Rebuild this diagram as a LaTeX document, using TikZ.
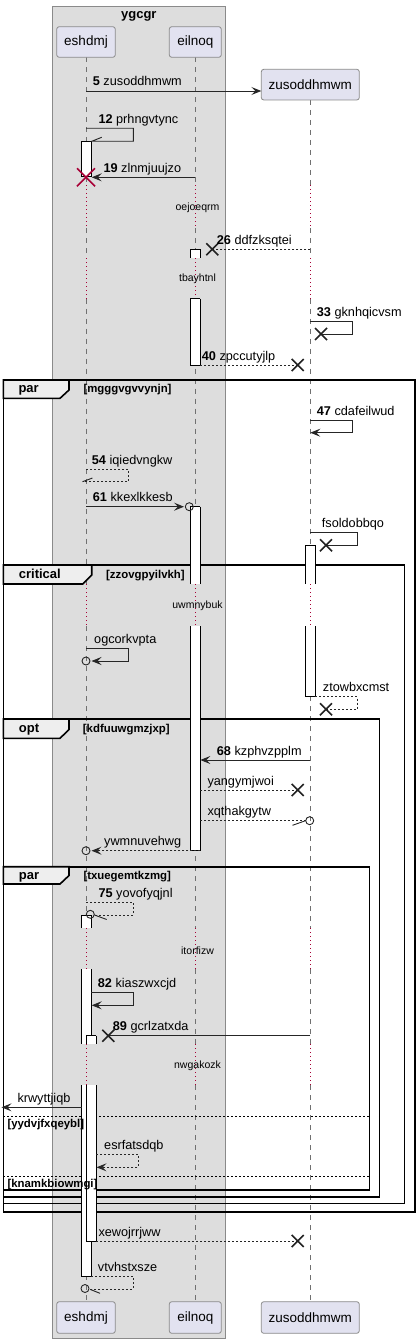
\documentclass[tikz,border=0pt]{standalone}
\usepackage{fontspec}
\setmainfont{Liberation Sans}
\usetikzlibrary{arrows.meta}
\definecolor{partfill}{HTML}{E2E2F0}
\definecolor{partdraw}{HTML}{8A8A8A}
\definecolor{boxfill}{HTML}{DDDDDD}
\definecolor{boxdraw}{HTML}{8A8A8A}
\definecolor{lifecol}{HTML}{707070}
\definecolor{delaycol}{HTML}{A80036}
\definecolor{tabfill}{HTML}{EEEEEE}
\definecolor{xcol}{HTML}{222222}
\tikzset{
 part/.style={draw=partdraw, fill=partfill, rounded corners=2.5pt, line width=0.8pt, font=\fontsize{13.5}{16}\selectfont, inner sep=0pt},
 life/.style={draw=lifecol, dash pattern=on 5pt off 5pt, line width=0.7pt},
 dly/.style={draw=delaycol, dash pattern=on 1pt off 3pt, line width=0.9pt},
 msg/.style={line width=0.9pt, draw=black!85},
 ret/.style={msg, dash pattern=on 2pt off 2pt},
 arr/.style={-{Stealth[length=10pt,width=8pt,inset=4pt]}},
 lbl/.style={inner sep=0pt, anchor=base west, font=\fontsize{12.7}{15}\selectfont},
 dtxt/.style={inner sep=0pt, font=\fontsize{10.5}{12}\selectfont},
 actside/.style={draw=black, line width=0.9pt},
 frm/.style={draw=black, line width=1.6pt},
 tabshape/.style={fill=tabfill, draw=black, line width=1.6pt},
 glbl/.style={inner sep=0pt, anchor=base west, font=\bfseries\fontsize{13}{15}\selectfont},
 guard/.style={inner sep=0pt, anchor=base west, font=\bfseries\fontsize{11.4}{13}\selectfont},
 sepline/.style={draw=black, dash pattern=on 2pt off 2pt, line width=0.8pt},
 xm/.style={draw=xcol, line width=1.6pt},
 circ/.style={draw=black!85, line width=0.9pt},
 pics/xmark/.style={code={\draw[xm] (-6,-6)--(6,6) (-6,6)--(6,-6);}},
 pics/redx/.style={code={\draw[draw=delaycol, line width=1.6pt] (-9,-9)--(9,9) (-9,9)--(9,-9);}},
}
% activation box: x1,y1,x2,y2, top(1/0), bottom(1/0)
\newcommand\actbar[6]{%
  \fill[white] (#1,#2) rectangle (#3,#4);
  \draw[actside] (#1,#2) -- (#1,#4) (#3,#2) -- (#3,#4);
  \ifnum#5=1 \draw[actside] (#1,#2) -- (#3,#2);\fi
  \ifnum#6=1 \draw[actside] (#1,#4) -- (#3,#4);\fi}
\newcommand\lifeln[2]{%
  \foreach \a/\b in {#2/185,228/258,298.7/584,626/928.3,969.3/1044,1085/1301.7}
    \draw[life] (#1,\a) -- (#1,\b);
  \foreach \a/\b in {185/228,258/298.7,584/626,928.3/969.3,1044/1085}
    \draw[dly] (#1,\a) -- (#1,\b);}
\begin{document}
\begin{tikzpicture}[x=1pt,y=-1pt]
\useasboundingbox (0,0) rectangle (419,1343);
% box
\draw[fill=boxfill, draw=boxdraw, line width=0.8pt] (52.3,6) rectangle (225.3,1338);
\node[inner sep=0pt, anchor=base, font=\bfseries\fontsize{13}{15}\selectfont] (boxttl) at (138.8,18.3) {ygcgr};
% lifelines
\lifeln{86}{57.3}
\lifeln{195.3}{57.3}
\lifeln{310.3}{100}
% participants
\node[part, minimum width=58.6pt, minimum height=30.6pt] (p1) at (86,42) {eshdmj};
\node[part, minimum width=52pt, minimum height=30.6pt] (p2) at (195.3,42) {eilnoq};
\node[part, minimum width=98pt, minimum height=30.7pt] (p3) at (310.3,84.65) {zusoddhmwm};
\node[part, minimum width=58.6pt, minimum height=31.6pt] (q1) at (86,1317.5) {eshdmj};
\node[part, minimum width=52pt, minimum height=31.6pt] (q2) at (195.3,1317.5) {eilnoq};
\node[part, minimum width=98pt, minimum height=31.6pt] (q3) at (310.3,1317.5) {zusoddhmwm};
\coordinate (p3in) at (261.3,91);
% frames
\draw[frm] (3.3,380) rectangle (415,1211.7);
\draw[tabshape] (3.3,380) -- (69,380) -- (69,390) -- (60,398.3) -- (3.3,398.3) -- cycle;
\node[glbl] (g1) at (18.3,392.3) {par};
\node[guard] (g1g) at (83.3,392.3) {[mgggvgvvynjn]};
\draw[frm] (3.3,565) rectangle (404.3,1203.3);
\draw[tabshape] (3.3,565) -- (91.7,565) -- (91.7,575) -- (82.7,584) -- (3.3,584) -- cycle;
\node[glbl] (g2) at (18.7,578.3) {critical};
\node[guard] (g2g) at (106,578.3) {[zzovgpyilvkh]};
\draw[frm] (3.3,719) rectangle (379.3,1196.7);
\draw[tabshape] (3.3,719) -- (69,719) -- (69,729.5) -- (60,738.3) -- (3.3,738.3) -- cycle;
\node[glbl] (g3) at (18.7,732) {opt};
\node[guard] (g3g) at (82.7,732) {[kdfuuwgmzjxp]};
\draw[frm] (3.3,866.7) rectangle (369.3,1190);
\draw[tabshape] (3.3,866.7) -- (69,866.7) -- (69,875.5) -- (60,884) -- (3.3,884) -- cycle;
\node[glbl] (g4) at (18.7,879.3) {par};
\node[guard] (g4g) at (83.3,879.3) {[txuegemtkzmg]};
\draw[sepline] (3.3,1116) -- (369.3,1116);
\draw[sepline] (3.3,1176) -- (369.3,1176);
% activations
\actbar{81.7}{141.3}{91}{176.7}{1}{1}
\actbar{190.3}{249.3}{200.3}{257.7}{1}{0}
\actbar{190.3}{298.7}{200.3}{365}{1}{1}
\actbar{190.3}{506.7}{200.3}{584}{1}{0}
\actbar{190.3}{626}{200.3}{850.7}{0}{1}
\actbar{305.7}{545.3}{315.3}{584}{1}{0}
\actbar{305.7}{626}{315.3}{696.7}{0}{1}
\actbar{81.7}{915}{91}{928.3}{1}{0}
\actbar{81.7}{969.3}{91}{1044}{0}{0}
\actbar{81.7}{1085}{91}{1276.7}{0}{1}
\actbar{86.3}{1035.7}{96.3}{1044}{1}{0}
\actbar{86.3}{1085}{96.3}{1241}{0}{1}
\node[guard] (s1) at (7.3,1127.7) {[yydvjfxqeybl]};
\node[guard] (s2) at (7.3,1187) {[knamkbiowmgi]};
% delay texts
\node[dtxt] (d1) at (197.5,207.7) {oejoeqrm};
\node[dtxt] (d2) at (197.5,279) {tbayhtnl};
\node[dtxt] (d3) at (197.5,606) {uwmnybuk};
\node[dtxt] (d4) at (197.5,950.5) {itorfizw};
\node[dtxt] (d5) at (197.5,1065.5) {nwgakozk};
% messages
\draw[msg, arr] (86,91) -- (p3in);
\node[lbl] at (92.7,86) {\textbf{5} zusoddhmwm};
\draw[msg] (86,128.3) -- (133.3,128.3) -- (133.3,141.3) -- (91.7,141.3) -- (101.7,137.3);
\node[lbl] at (98.3,123.5) {\textbf{12} prhngvtync};
\draw[msg, arr] (195.3,177.3) -- (91.7,177.3);
\pic at (86,177.3) {redx};
\node[lbl] at (103.3,172.3) {\textbf{19} zlnmjuujzo};
\draw[ret] (310.3,249.3) -- (212.3,249.3);
\pic at (212.3,249.3) {xmark};
\node[lbl] at (216.7,244.3) {\textbf{26} ddfzksqtei};
\draw[msg] (310.3,321) -- (352.3,321) -- (352.3,334) -- (321,334);
\pic at (321,334) {xmark};
\node[lbl] at (316.7,316) {\textbf{33} gknhqicvsm};
\draw[ret] (200.3,365) -- (297.7,365);
\pic at (297.7,365) {xmark};
\node[lbl] at (201.7,360) {\textbf{40} zpccutyjlp};
\draw[msg, arr] (310.3,420.7) -- (352.3,420.7) -- (352.3,432.7) -- (310.3,432.7);
\node[lbl] at (316.7,415.7) {\textbf{47} cdafeilwud};
\draw[ret] (86,469.3) -- (128.3,469.3) -- (128.3,481.7) -- (82.5,481.7);
\draw[msg] (82.5,481.7) -- (92.5,478);
\node[lbl] at (91.7,464.3) {\textbf{54} iqiedvngkw};
\draw[msg, arr] (86,506.7) -- (184,506.7);
\draw[circ] (189.3,506.7) circle (4);
\node[lbl] at (92.7,501.7) {\textbf{61} kkexlkkesb};
\draw[msg] (310.3,532.7) -- (357.3,532.7) -- (357.3,545.3) -- (326,545.3);
\pic at (326,545.3) {xmark};
\node[lbl] at (321.7,527.7) {fsoldobbqo};
\draw[msg, arr] (86,648.3) -- (128.3,648.3) -- (128.3,661) -- (91.5,661);
\draw[circ] (86,661) circle (4);
\node[lbl] at (94,643.3) {ogcorkvpta};
\draw[ret] (315.3,696.7) -- (357.3,696.7) -- (357.3,709.3) -- (326,709.3);
\pic at (326,709.3) {xmark};
\node[lbl] at (322.7,691.7) {ztowbxcmst};
\draw[msg, arr] (310.3,760) -- (200.3,760);
\node[lbl] at (216.7,755) {\textbf{68} kzphvzpplm};
\draw[ret] (200.3,790) -- (297.7,790);
\pic at (297.7,790) {xmark};
\node[lbl] at (207.3,785) {yangymjwoi};
\draw[ret] (200.3,820.7) -- (305.5,820.7);
\draw[msg] (305.5,820.7) -- (292.5,825.3);
\draw[circ] (309.7,820.7) circle (4);
\node[lbl] at (207.3,815.7) {xqthakgytw};
\draw[ret, arr] (200.3,850.7) -- (91.5,850.7);
\draw[circ] (86,850.7) circle (4);
\node[lbl] at (104,845.7) {ywmnuvehwg};
\draw[ret] (86,902.7) -- (133.3,902.7) -- (133.3,915) -- (94.5,915);
\draw[msg] (94.5,915) -- (106.7,919.5);
\draw[circ] (90.3,914.3) circle (4);
\node[lbl] at (98.3,897.7) {\textbf{75} yovofyqjnl};
\draw[msg, arr] (91,992.7) -- (133.3,992.7) -- (133.3,1005.3) -- (91.7,1005.3);
\node[lbl] at (97.7,987.7) {\textbf{82} kiaszwxcjd};
\draw[msg] (310.3,1035.7) -- (108.3,1035.7);
\pic at (108.3,1035.7) {xmark};
\node[lbl] at (112.7,1030.7) {\textbf{89} gcrlzatxda};
\draw[msg, arr] (81.7,1107.3) -- (1.5,1107.3);
\node[lbl] at (17.3,1102.3) {krwyttjiqb};
\draw[ret, arr] (96.3,1154.3) -- (138.3,1154.3) -- (138.3,1167.3) -- (96.5,1167.3);
\node[lbl] at (104,1149.3) {esrfatsdqb};
\draw[ret] (96.3,1241) -- (297.7,1241);
\pic at (297.7,1241) {xmark};
\node[lbl] at (98.3,1236) {xewojrrjww};
\draw[ret] (91,1276.7) -- (133.3,1276.7) -- (133.3,1289) -- (89.5,1289);
\draw[msg] (90.5,1289.5) -- (100,1293.3);
\draw[circ] (85,1288.5) circle (4);
\node[lbl] at (97.7,1271.7) {vtvhstxsze};
\end{tikzpicture}
\end{document}
